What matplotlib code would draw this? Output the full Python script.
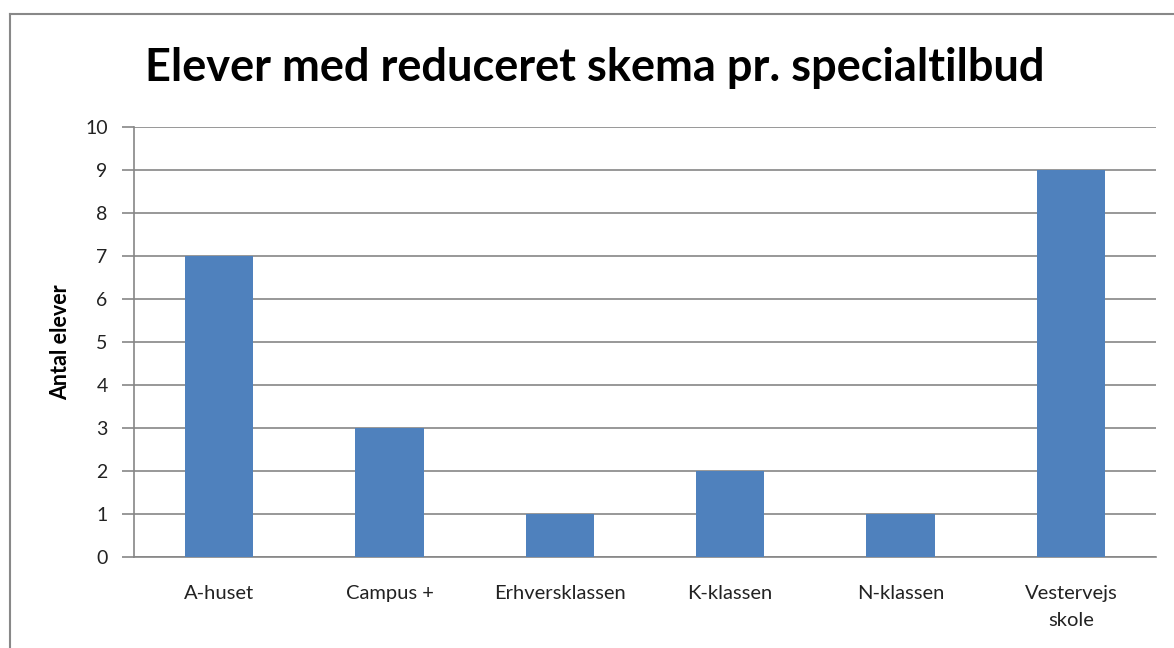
import matplotlib
matplotlib.use('Agg')
import matplotlib.pyplot as plt
from matplotlib.lines import Line2D

categories = ['A-huset', 'Campus +', 'Erhversklassen', 'K-klassen', 'N-klassen', 'Vestervejs\nskole']
values = [7, 3, 1, 2, 1, 9]
yticks = list(range(0, 11))

plt.rcParams['font.family'] = ['Lato', 'DejaVu Sans']

fig = plt.figure(figsize=(11.74, 6.48), dpi=100)
ax = fig.add_axes([134/1174, 1 - 557/648, (1156 - 134)/1174, (557 - 127)/648])

x = range(len(categories))
ax.bar(x, values, width=0.4, color='#4f81bd', zorder=3)
ax.set_xlim(-0.5, len(categories) - 0.5)
ax.set_ylim(0, 10)
ax.set_yticks(yticks)
ax.set_xticks(list(x))
ax.set_xticklabels(categories, fontsize=14.5, linespacing=1.75)
ax.tick_params(axis='x', length=0, pad=20, colors='#222222')
ax.tick_params(axis='y', length=9, width=1.2, color='#868686', pad=10, labelsize=14, labelcolor='#222222')
ax.grid(axis='y', color='#868686', linewidth=1.2, zorder=0)
for s in ['top', 'right']:
    ax.spines[s].set_visible(False)
for s in ['left', 'bottom']:
    ax.spines[s].set_color('#868686')
    ax.spines[s].set_linewidth(1.2)

ax.set_ylabel('Antal elever', fontsize=15.5, fontweight='bold', labelpad=10)
fig.text(0.507, 1 - 68/648, 'Elever med reduceret skema pr. specialtilbud',
         ha='center', va='center', fontsize=32.5, fontweight='bold')

# chart border (left and top edges visible)
fig.add_artist(Line2D([10/1174, 10/1174], [0, 1 - 14/648], color='#888888', linewidth=1.5))
fig.add_artist(Line2D([10/1174, 1], [1 - 14/648, 1 - 14/648], color='#888888', linewidth=1.5))

fig.savefig('out.png', dpi=100)
